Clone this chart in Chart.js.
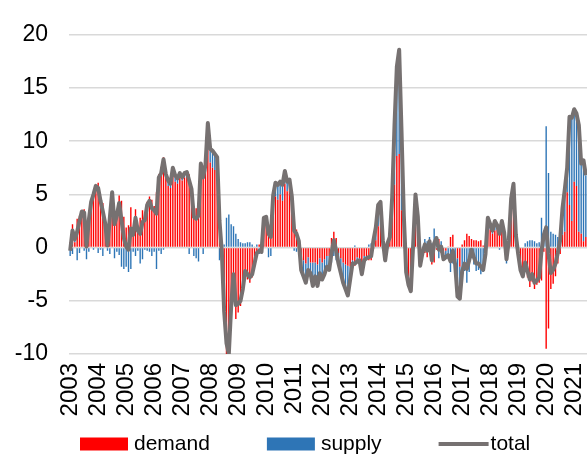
<!DOCTYPE html>
<html>
<head>
<meta charset="utf-8">
<script src="https://cdn.jsdelivr.net/npm/chart.js@4.4.1/dist/chart.umd.min.js"></script>
<style>
  html, body { margin: 0; padding: 0; background: #fff; }
  #wrap { width: 587px; height: 457px; position: relative; }
</style>
</head>
<body>
<div id="wrap"><canvas id="chart"></canvas></div>
<script>
// Year labels under the x axis (one per January)
const years = ['2003', '2004', '2005', '2006', '2007', '2008', '2009', '2010', '2011', '2012',
  '2013', '2014', '2015', '2016', '2017', '2018', '2019', '2020', '2021'];

// Monthly contributions, Jan 2003 - Jun 2021
const demand = [
  0.5, 2.2, 0.5, 2.7, 3.0, 3.2, 3.6, 1.2, 3.0, 4.1, 5.2, 5.5,
  6.1, 4.6, 4.2, 2.1, 0.5, 3.4, 5.0, 3.2, 3.4, 4.9, 4.4, 2.9,
  1.9, 2.1, 3.8, 1.6, 3.6, 1.9, 2.8, 3.5, 2.8, 4.3, 4.8, 4.5,
  3.9, 5.2, 6.9, 7.6, 8.5, 6.6, 5.8, 5.6, 7.2, 6.2, 6.0, 6.7,
  6.3, 6.6, 6.9, 6.9, 5.2, 3.7, 3.7, 4.3, 7.5, 7.2, 7.2, 9.2,
  8.0, 7.5, 7.3, 7.0, 3.7, -0.6, -6.3, -11.8, -13.1, -7.7, -4.5, -6.7,
  -6.1, -5.5, -4.3, -2.6, -3.0, -3.3, -2.8, -1.6, -0.8, 0.3, 0.2, 2.5,
  2.7, 2.2, 1.8, 4.3, 4.8, 4.5, 5.0, 4.4, 6.0, 5.3, 5.6, 4.5,
  1.9, 1.7, 0.4, -1.1, -1.2, -1.5, -0.9, -1.4, -1.4, -1.4, -1.6, -1.0,
  -1.4, -1.1, -0.8, -0.8, 0.9, 1.5, 0.9, -0.5, -1.0, -1.4, -1.6, -1.7,
  -1.8, -1.2, -1.7, -0.9, -1.0, -1.7, -0.8, -0.8, -1.2, -1.2, -0.1, 0.7,
  2.0, 2.3, 0.4, -0.9, 0.5, 1.0, 3.0, 5.9, 8.6, 8.8, 3.5, 2.0,
  -1.8, -2.9, -3.1, 0.6, 2.6, 1.8, -1.4, -0.6, -0.5, -0.9, -0.4, -1.6,
  -1.4, -0.2, 0.8, -0.5, -0.6, -0.3, 0.1, 1.0, 1.2, 0.0, -1.0, -1.8,
  0.3, 0.7, 1.3, 1.1, 0.8, 0.7, 0.7, 0.6, 0.7, 0.2, 0.4, 1.6,
  1.7, 1.3, 1.6, 1.7, 1.5, 1.9, 1.1, 0.4, 0.5, 2.8, 4.0, 1.0,
  -0.9, -1.9, -2.4, -1.8, -2.8, -3.7, -3.2, -3.9, -3.5, -3.3, -3.1, -0.4,
  -9.5, -7.6, -3.9, -3.4, -2.7, -1.5, -0.6, 1.2, 1.5, 5.2, 4.0, 2.5,
  6.2, 5.8, 1.5, 1.3, 0.6, 1.0
];

const supply = [
  -0.8, -0.6, 0.3, -1.2, -0.5, 0.2, -0.3, -1.1, -0.4, 0.2, -0.2, 0.3,
  -0.5, -0.2, -0.8, 0.2, -0.3, -0.6, 0.2, -1.0, -0.4, -0.7, -1.8, -2.0,
  -1.8, -2.3, -2.0, -0.4, -0.8, -0.3, -1.5, -1.1, -0.2, -0.3, -0.4, -0.8,
  -0.4, -2.0, -0.3, -0.6, -0.2, 0.3, 0.5, 0.4, 0.3, 0.6, 0.5, 0.3,
  0.3, 0.4, 0.2, -0.6, 0.3, -0.8, -1.0, -1.3, 0.4, -0.6, 0.6, 2.5,
  1.3, 1.6, 1.5, 1.5, -1.2, 0.2, 0.3, 2.8, 3.1, 2.2, 2.0, 1.3,
  0.8, 0.5, 0.4, 0.4, 0.5, 0.5, 0.3, 0.1, 0.3, -0.6, -0.6, 0.3,
  0.2, -0.9, -0.8, 0.6, 1.3, 1.4, 1.2, 1.5, 1.2, 0.9, 0.8, 0.3,
  -0.3, -0.4, 0.2, -1.0, -1.5, -1.8, -1.2, -1.0, -2.2, -1.3, -2.0, -1.4,
  -1.6, -1.4, -1.0, -1.3, -1.4, -0.8, -1.2, -1.0, -1.4, -1.9, -2.3, -2.8,
  -1.2, -0.3, 0.2, -0.4, -0.2, -0.8, -0.4, -0.2, 0.3, 0.4, 0.8, 1.2,
  2.0, 2.0, 0.3, -0.3, -0.1, 0.0, 1.7, 5.6, 8.4, 9.8, 7.5, 1.0,
  -0.5, -0.6, -1.0, -0.3, 2.4, 1.1, -0.3, 0.1, 0.8, 0.6, 1.0, 0.4,
  1.8, 1.1, -1.0, 0.6, -0.5, -0.6, -0.8, -2.3, -1.5, -1.6, -3.6, -3.0,
  -2.5, -2.2, -3.3, -2.3, -1.0, -1.6, -2.2, -2.1, -2.5, -2.3, -1.0, 1.2,
  0.5, 0.3, 0.9, 0.4, -0.2, 0.6, 0.3, -1.5, 0.2, 1.8, 2.0, 0.2,
  0.3, -0.2, -0.3, 0.4, 0.6, 0.7, 0.7, 0.6, 0.4, 0.5, 2.8, 1.6,
  11.4, 7.0, 1.5, 1.3, 1.2, 1.0, 1.3, 2.5, 4.0, 2.3, 8.3, 9.7,
  6.8, 6.8, 10.0, 6.6, 7.6, 5.8
];

const total = [
  -0.3, 1.6, 0.8, 1.5, 2.5, 3.4, 3.3, 0.1, 2.6, 4.3, 5.0, 5.8,
  5.6, 4.4, 3.4, 2.3, 0.2, 2.8, 5.2, 2.2, 3.0, 4.2, 2.6, 0.9,
  0.1, -0.2, 1.8, 1.2, 2.8, 1.6, 1.3, 2.4, 2.6, 4.0, 4.4, 3.7,
  3.5, 3.2, 6.6, 7.0, 8.3, 6.9, 6.3, 6.0, 7.5, 6.8, 6.5, 7.0,
  6.6, 7.0, 7.1, 6.3, 5.5, 2.9, 2.7, 3.0, 7.9, 6.6, 7.8, 11.7,
  9.3, 9.1, 8.8, 8.5, 2.5, -0.4, -6.0, -9.0, -10.0, -5.5, -2.5, -5.4,
  -5.3, -5.0, -3.9, -2.2, -2.5, -2.8, -2.5, -1.5, -0.5, -0.3, -0.4, 2.8,
  2.9, 1.3, 1.0, 4.9, 6.1, 5.9, 6.2, 5.9, 7.2, 6.2, 6.4, 4.8,
  1.6, 1.3, 0.6, -2.1, -2.7, -3.3, -2.1, -2.4, -3.6, -2.7, -3.6, -2.4,
  -3.0, -2.5, -1.8, -2.1, -0.5, 0.7, -0.3, -1.5, -2.4, -3.3, -3.9, -4.5,
  -3.0, -1.5, -1.5, -1.3, -1.2, -2.5, -1.2, -1.0, -0.9, -0.8, 0.7, 1.9,
  4.0, 4.3, 0.7, -1.2, 0.4, 1.0, 4.7, 11.5, 17.0, 18.6, 11.0, 3.0,
  -2.3, -3.5, -4.1, 0.3, 5.0, 2.9, -1.7, -0.5, 0.3, -0.3, 0.6, -1.2,
  0.4, 0.9, -0.2, 0.1, -1.1, -0.9, -0.7, -1.3, -0.3, -1.6, -4.6, -4.8,
  -2.2, -1.5, -2.0, -1.2, -0.2, -0.9, -1.5, -1.5, -1.8, -2.1, -0.6, 2.8,
  2.2, 1.6, 2.5, 2.1, 1.3, 2.5, 1.4, -1.1, 0.7, 4.6, 6.0, 1.2,
  -0.6, -2.1, -2.7, -1.4, -2.2, -3.0, -2.5, -3.3, -3.1, -2.8, -0.3, 1.2,
  1.9, -0.6, -2.4, -2.1, -1.5, -0.5, 0.7, 3.7, 5.5, 7.5, 12.3, 12.2,
  13.0, 12.6, 11.5, 7.9, 8.2, 6.8
];

// one category per month
const months = [];
years.forEach(y => {
  for (let m = 1; m <= 12; m++) months.push(y + '-' + String(m).padStart(2, '0'));
});
months.length = total.length;

const FONT = "'Liberation Sans', Arial, sans-serif";
Chart.defaults.font.family = FONT;
Chart.defaults.color = '#000';

// single-row legend with wide gaps between entries
const legendRow = {
  id: 'legendRow',
  afterDraw(chart) {
    const { ctx } = chart;
    const y = chart.height - 13;
    let x = chart.chartArea.left + 11;
    ctx.save();
    ctx.font = '21px ' + FONT;
    ctx.textBaseline = 'middle';
    chart.data.datasets.forEach(ds => {
      if (ds.type === 'line') {
        ctx.strokeStyle = ds.borderColor;
        ctx.lineWidth = ds.borderWidth;
        ctx.beginPath();
        ctx.moveTo(x, y);
        ctx.lineTo(x + 50, y);
        ctx.stroke();
        x += 52;
      } else {
        ctx.fillStyle = ds.backgroundColor;
        ctx.fillRect(x, y - 6.5, 48, 13);
        x += 54;
      }
      ctx.fillStyle = '#000';
      ctx.fillText(ds.label, x, y);
      x += ctx.measureText(ds.label).width + 57;
    });
    ctx.restore();
  }
};

const ctx = document.getElementById('chart').getContext('2d');
new Chart(ctx, {
  data: {
    labels: months,
    datasets: [
      {
        type: 'bar',
        label: 'demand',
        data: demand,
        backgroundColor: '#ff0000',
        stack: 'parts',
        order: 1,
        barPercentage: 0.6,
        categoryPercentage: 1.0
      },
      {
        type: 'bar',
        label: 'supply',
        data: supply,
        backgroundColor: '#2e75b6',
        stack: 'parts',
        order: 1,
        barPercentage: 0.6,
        categoryPercentage: 1.0
      },
      {
        type: 'line',
        label: 'total',
        data: total,
        borderColor: '#767171',
        backgroundColor: '#767171',
        borderWidth: 4,
        borderJoinStyle: 'round',
        pointRadius: 0,
        tension: 0,
        stack: 'sum',
        order: 0
      }
    ]
  },
  plugins: [legendRow],
  options: {
    responsive: true,
    maintainAspectRatio: false,
    animation: false,
    layout: { padding: { left: 0, top: 26, right: 0, bottom: 39 } },
    plugins: {
      tooltip: { enabled: false },
      legend: { display: false }
    },
    scales: {
      x: {
        stacked: true,
        grid: { display: false, drawTicks: false },
        border: { display: false },
        ticks: {
          autoSkip: false,
          minRotation: 90,
          maxRotation: 90,
          padding: 9,
          font: { size: 24 },
          color: '#000',
          callback: (val, i) => (i % 12 === 0 ? years[i / 12] : null)
        },
        afterFit: scale => {
          scale.height = 64;
          scale.paddingLeft = 0;
          scale.paddingRight = 0;
        }
      },
      y: {
        stacked: true,
        min: -10,
        max: 20,
        grid: { color: '#d9d9d9', lineWidth: 1.5, drawTicks: false },
        border: { display: false },
        ticks: {
          stepSize: 5,
          padding: 21,
          font: { size: 23 },
          color: '#000'
        },
        afterFit: scale => { scale.width = 69; }
      }
    }
  }
});
</script>
</body>
</html>
